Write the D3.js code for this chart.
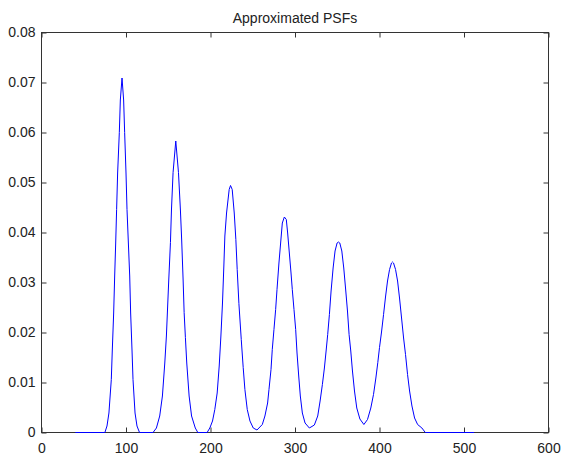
<!DOCTYPE html>
<html>
<head>
<meta charset="utf-8">
<script src="https://cdn.jsdelivr.net/npm/d3@7"></script>
<style>
  body { margin: 0; background: #fff; }
  text { font-family: "Liberation Sans", Arial, sans-serif; }
</style>
</head>
<body>
<div id="chart"></div>
<script>
// DATA
var title = "Approximated PSFs"
var xTicks = [0, 100, 200, 300, 400, 500, 600]
var yTicks = [0, 0.01, 0.02, 0.03, 0.04, 0.05, 0.06, 0.07, 0.08]

var psfX = [40, 75, 77.5, 79.8, 82.6, 83.8, 85.4, 86.6, 87.8, 88.9, 90.1, 92.1, 93.3, 95.3, 97.2, 98.4, 100, 101.2, 102.8, 104.4, 105.5, 107.1, 108.3, 110.7, 113, 116,
  132, 136, 139.9, 143.1, 145.9, 147.8, 150.6, 152.6, 153.8, 155.7, 158.9, 162.1, 164.4, 165.9, 167.6, 168.8, 170.3, 171.9, 174.7, 177.6, 182, 185,
  196, 199.2, 202.4, 205.1, 207.9, 210.3, 212.3, 214.2, 215.8, 217, 219, 222.1, 223.7, 225.7, 228.1, 230, 231.6, 233.6, 236.4, 238.7, 240.7, 243.5, 246.7, 250.6, 255,
  261.3, 264.4, 267.6, 269.2, 271.6, 273.1, 275.1, 277.1, 278.7, 281, 283, 285, 287.4, 289.7, 291.3, 293.3, 295.3, 296.8, 298.8, 300.8, 302.4, 304.4, 306.3, 308.7, 311.9, 317,
  322.9, 326.9, 329.7, 332.4, 334.8, 336.8, 338.7, 340.7, 342.7, 345.1, 347.4, 349.8, 351.4, 353, 355.4, 357.7, 360.1, 362.1, 364, 366, 368, 370.4, 373.1, 376.8, 381.5,
  385.8, 389.7, 392.9, 395.7, 398, 400, 402.4, 404.8, 407.1, 409.5, 411.9, 414.2, 415.4, 416.6, 419, 421.4, 423.7, 426.1, 428.5, 430.8, 433.2, 435.6, 438.4, 441.5, 445.1, 450.2, 454.2, 512]

var psfY = [0, 0, 0.0013, 0.0039, 0.0106, 0.0165, 0.0239, 0.0313, 0.0379, 0.0446, 0.0519, 0.0600, 0.0665, 0.0709, 0.0665, 0.0600, 0.0519, 0.0446, 0.0379, 0.0313, 0.0239, 0.0165, 0.0106, 0.0039, 0.0013, 0,
  0, 0.0009, 0.0033, 0.0073, 0.0139, 0.0193, 0.0305, 0.0380, 0.0445, 0.0520, 0.0583, 0.0520, 0.0445, 0.0385, 0.0305, 0.0240, 0.0190, 0.0139, 0.0073, 0.0033, 0.0009, 0,
  0, 0.0009, 0.0023, 0.0046, 0.0079, 0.0133, 0.0193, 0.0259, 0.0333, 0.0393, 0.0439, 0.0486, 0.0494, 0.0486, 0.0439, 0.0386, 0.0326, 0.0258, 0.0186, 0.0130, 0.0086, 0.0046, 0.0023, 0.0009, 0.0005,
  0.0016, 0.0033, 0.0059, 0.0086, 0.0126, 0.0166, 0.0206, 0.0246, 0.0286, 0.0339, 0.0379, 0.0419, 0.0431, 0.0426, 0.0399, 0.0359, 0.0319, 0.0286, 0.0246, 0.0206, 0.0159, 0.0113, 0.0073, 0.0039, 0.0019, 0.0009,
  0.0015, 0.0033, 0.0063, 0.0096, 0.0129, 0.0163, 0.0196, 0.0236, 0.0283, 0.0329, 0.0363, 0.0379, 0.0381, 0.0379, 0.0363, 0.0329, 0.0283, 0.0243, 0.0196, 0.0163, 0.0123, 0.0083, 0.0049, 0.0027, 0.0016,
  0.0026, 0.0049, 0.0076, 0.0109, 0.0140, 0.0170, 0.0201, 0.0236, 0.0271, 0.0303, 0.0326, 0.0339, 0.0341, 0.0339, 0.0326, 0.0303, 0.0269, 0.0229, 0.0189, 0.0156, 0.0116, 0.0083, 0.0053, 0.0029, 0.0016, 0.0009, 0, 0]

var W = 562, H = 455
var margin = {top: 32.5, right: 13.5, bottom: 22.5, left: 41.5}
var width = W - margin.left - margin.right
var height = H - margin.top - margin.bottom
var tick = 5
var axisColor = "#333"

var svg = d3.select("#chart").append("svg")
  .attr("width", W)
  .attr("height", H)

var g = svg.append("g")
  .attr("transform", "translate(" + margin.left + "," + margin.top + ")")

var x = d3.scaleLinear().domain([0, 600]).range([0, width])
var y = d3.scaleLinear().domain([0, 0.08]).range([height, 0])

// AXES (ticks inside, box on)
var fmtY = function (d) { return d === 0 ? "0" : d3.format(".2f")(d) }

var axBottom = g.append("g")
  .attr("transform", "translate(0," + height + ")")
  .call(d3.axisBottom(x).tickValues(xTicks).tickSizeInner(-tick).tickSizeOuter(0).tickPadding(10.5))
var axLeft = g.append("g")
  .call(d3.axisLeft(y).tickValues(yTicks).tickSizeInner(-tick).tickSizeOuter(0).tickPadding(6).tickFormat(fmtY))
var axTop = g.append("g")
  .call(d3.axisTop(x).tickValues(xTicks).tickSizeInner(-tick).tickSizeOuter(0).tickFormat(""))
var axRight = g.append("g")
  .attr("transform", "translate(" + width + ",0)")
  .call(d3.axisRight(y).tickValues(yTicks).tickSizeInner(-tick).tickSizeOuter(0).tickFormat(""))

;[axBottom, axLeft, axTop, axRight].forEach(function (a) {
  a.select(".domain").remove()
  a.selectAll("line").attr("stroke", axisColor)
  a.selectAll("text")
    .style("font-size", "14px")
    .attr("fill", "#222")
})

g.append("rect")
  .attr("width", width)
  .attr("height", height)
  .attr("fill", "none")
  .attr("stroke", axisColor)
  .attr("stroke-width", 1)

// CURVE
var line = d3.line()
  .x(function (d, i) { return x(psfX[i]) })
  .y(function (d) { return y(d) })

g.append("path")
  .datum(psfY)
  .attr("fill", "none")
  .attr("stroke", "#0000ff")
  .attr("stroke-width", 1)
  .attr("d", line)

// TITLE
svg.append("text")
  .attr("x", margin.left + width / 2)
  .attr("y", 23)
  .attr("text-anchor", "middle")
  .attr("fill", "#222")
  .style("font-size", "14px")
  .text(title)
</script>
</body>
</html>
